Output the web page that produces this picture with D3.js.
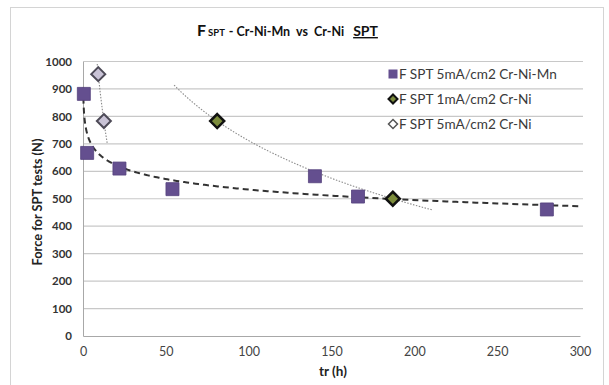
<!DOCTYPE html>
<html><head><meta charset="utf-8">
<script src="https://cdn.jsdelivr.net/npm/d3@7"></script>
<style>body{margin:0;background:#fff}svg{display:block;font-family:Lato,"Open Sans",sans-serif}</style>
</head><body><svg id="c" width="609" height="385"></svg>
<script>
// ---- data ----
const xTicks = [0, 50, 100, 150, 200, 250, 300];
const yTicks = [0, 100, 200, 300, 400, 500, 600, 700, 800, 900, 1000];
const seriesNames = ["F SPT 5mA/cm2 Cr-Ni-Mn", "F SPT 1mA/cm2 Cr-Ni", "F SPT 5mA/cm2 Cr-Ni"];
const crNiMn5_x = [0.5, 2.5, 22, 54, 140, 166, 280];
const crNiMn5_y = [882, 667, 610, 535, 582, 508, 461];
const crNi1_x = [81, 187];
const crNi1_y = [783, 500];
const crNi5_x = [9.2, 12.6];
const crNi5_y = [954, 783];
// trendline (logarithmic) x-ranges
const trend1Range = [0.12, 300];
const trend2Range = [55, 211];
const trend3Range = [8.6, 14.6];

// ---- layout ----
const svg = d3.select("#c");
const L = 83, R = 580, T = 61.5, B = 336;
const x = d3.scaleLinear().domain([0, 300]).range([L, R]);
const y = d3.scaleLinear().domain([0, 1000]).range([B, T]);

// outer frame
svg.append("rect").attr("x", 10.5).attr("y", 7.5).attr("width", 593).attr("height", 390)
  .attr("fill", "none").attr("stroke", "#d4d4d4").attr("stroke-width", 1);

// gridlines
svg.append("g").selectAll("line").data(yTicks.filter(d => d > 0)).join("line")
  .attr("x1", L).attr("x2", R + 3).attr("y1", d => y(d)).attr("y2", d => y(d))
  .attr("stroke", "#c8c8c8").attr("stroke-width", 1.2);

// axes
const yAxis = svg.append("g").attr("transform", `translate(${L},0)`)
  .call(d3.axisLeft(y).tickValues(yTicks).tickFormat(d3.format("d")).tickSize(0).tickPadding(11));
yAxis.select(".domain").attr("stroke", "#a8a8a8");
yAxis.selectAll("text").attr("font-size", 11.5).attr("font-weight", "bold").attr("fill", "#333")
  .attr("font-family", "Lato");
const xAxis = svg.append("g").attr("transform", `translate(0,${B})`)
  .call(d3.axisBottom(x).tickValues(xTicks).tickFormat(d3.format("d")).tickSize(0).tickPadding(11));
xAxis.select(".domain").attr("stroke", "#a8a8a8");
xAxis.selectAll("text").attr("font-size", 12.5).attr("fill", "#444").attr("font-family", "Lato");

// axis titles
svg.append("text").attr("transform", "translate(42,202) rotate(-90)").attr("text-anchor", "middle")
  .attr("font-size", 12.8).attr("font-weight", "bold").attr("fill", "#222").text("Force for SPT tests (N)");
svg.append("text").attr("x", 333).attr("y", 376).attr("text-anchor", "middle")
  .attr("font-size", 13.5).attr("font-weight", "bold").attr("fill", "#222").text("tr (h)");

// title
const title = svg.append("text").attr("x", 197).attr("y", 36).attr("font-weight", "bold").attr("fill", "#111");
title.append("tspan").attr("font-size", 16).text("F");
title.append("tspan").attr("font-size", 9.5).attr("dx", 2).text("SPT");
title.append("tspan").attr("font-size", 12.5).attr("dx", 4).attr("xml:space", "preserve").text("- Cr-Ni-Mn  vs  Cr-Ni");
title.append("tspan").attr("font-size", 14).attr("dx", 9).attr("text-decoration", "underline").text("SPT");

// logarithmic least-squares fit
function logFit(xs, ys) {
  const lx = xs.map(Math.log);
  const mx = d3.mean(lx), my = d3.mean(ys);
  const b = d3.sum(lx, (v, i) => (v - mx) * (ys[i] - my)) / d3.sum(lx, v => (v - mx) ** 2);
  const a = my - b * mx;
  return v => a + b * Math.log(v);
}
const line = d3.line().x(d => x(d[0])).y(d => y(d[1]));
function sampled(range, n) { return d3.range(n + 1).map(i => range[0] * Math.pow(range[1] / range[0], i / n)); }
function trend(xs, ys, range) { const f = logFit(xs, ys); return sampled(range, 300).map(v => [v, f(v)]); }

svg.append("path").datum(trend(crNi1_x, crNi1_y, trend2Range)).attr("d", line)
  .attr("fill", "none").attr("stroke", "#8a8a8a").attr("stroke-width", 1.1).attr("stroke-dasharray", "1.5,1.5");
svg.append("path").datum(trend(crNi5_x, crNi5_y, trend3Range)).attr("d", line)
  .attr("fill", "none").attr("stroke", "#8a8a8a").attr("stroke-width", 1.1).attr("stroke-dasharray", "1.5,1.5");
svg.append("path").datum(trend(crNiMn5_x, crNiMn5_y, trend1Range)).attr("d", line)
  .attr("fill", "none").attr("stroke", "#333").attr("stroke-width", 2).attr("stroke-dasharray", "6,4");

// markers
const sq = d3.symbol().type(d3.symbolSquare).size(169);
const pts1 = crNiMn5_x.map((v, i) => [v, crNiMn5_y[i]]);
const pts2 = crNi1_x.map((v, i) => [v, crNi1_y[i]]);
const pts3 = crNi5_x.map((v, i) => [v, crNi5_y[i]]);
const diamond = s => `M0,${-s}L${s},0L0,${s}L${-s},0Z`;

svg.append("g").selectAll("path").data(pts1).join("path").attr("d", sq)
  .attr("transform", d => `translate(${x(d[0])},${y(d[1])})`)
  .attr("fill", "#644f8f").attr("stroke", "#54417c").attr("stroke-width", 0.8);
svg.append("g").selectAll("path").data(pts3).join("path").attr("d", diamond(7))
  .attr("transform", d => `translate(${x(d[0])},${y(d[1])})`)
  .attr("fill", "#c9c3d6").attr("stroke", "#4d4a57").attr("stroke-width", 2);
svg.append("g").selectAll("path").data(pts2).join("path").attr("d", diamond(7))
  .attr("transform", d => `translate(${x(d[0])},${y(d[1])})`)
  .attr("fill", "#7c8c3c").attr("stroke", "#111").attr("stroke-width", 2.5);

// legend
const legY = [74, 99, 124];
const leg = svg.append("g");
leg.append("rect").attr("x", 388.5).attr("y", legY[0] - 4.5).attr("width", 9).attr("height", 9).attr("fill", "#644f8f");
leg.append("path").attr("d", diamond(4.5)).attr("transform", `translate(393,${legY[1]})`)
  .attr("fill", "#7c8c3c").attr("stroke", "#111").attr("stroke-width", 2);
leg.append("path").attr("d", diamond(4.5)).attr("transform", `translate(393,${legY[2]})`)
  .attr("fill", "#fff").attr("stroke", "#555").attr("stroke-width", 1.5);
leg.selectAll("text").data(seriesNames).join("text").attr("x", 399).attr("y", (d, i) => legY[i] + 4.5)
  .attr("font-size", 13.6).attr("fill", "#3a3a3a").text(d => d);
</script></body></html>
